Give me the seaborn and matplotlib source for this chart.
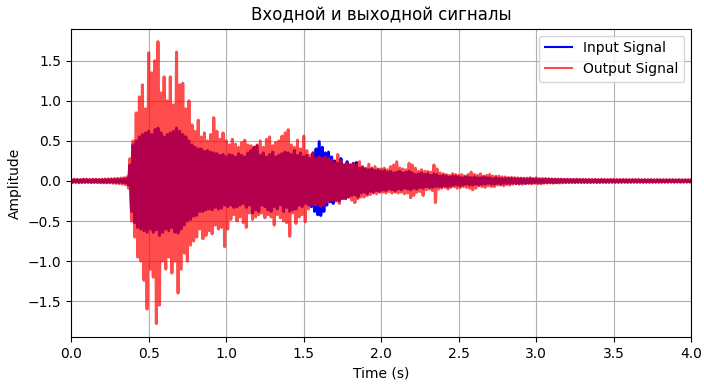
import numpy as np
import seaborn as sns
import matplotlib.pyplot as plt

# waveform samples, one value every 10 ms (rows = 0.2 s)
input_signal = [
    0.012, -0.014, 0.015, -0.013, 0.014, -0.016, 0.013, -0.015, 0.016, -0.014, 0.015, -0.013, 0.014, -0.016, 0.015, -0.014, 0.016, -0.015, 0.014, -0.016,
    0.015, -0.017, 0.016, -0.018, 0.017, -0.016, 0.018, -0.017, 0.019, -0.018, 0.02, -0.019, 0.021, -0.02, 0.024, -0.026, 0.03, -0.05, 0.2, -0.38,
    0.45, -0.52, 0.5, -0.58, 0.55, -0.6, 0.58, -0.62, 0.6, -0.64, 0.62, -0.6, 0.58, -0.64, 0.64, -0.61, 0.66, -0.68, 0.6, -0.64,
    0.55, -0.6, 0.58, -0.62, 0.6, -0.58, 0.62, -0.64, 0.66, -0.65, 0.62, -0.6, 0.58, -0.55, 0.55, -0.5, 0.5, -0.48, 0.45, -0.44,
    0.42, -0.43, 0.4, -0.38, 0.4, -0.38, 0.37, -0.36, 0.38, -0.35, 0.36, -0.36, 0.35, -0.33, 0.34, -0.35, 0.32, -0.34, 0.33, -0.3,
    0.3, -0.32, 0.33, -0.3, 0.32, -0.33, 0.3, -0.32, 0.34, -0.3, 0.32, -0.28, 0.3, -0.33, 0.35, -0.3, 0.38, -0.4, 0.42, -0.36,
    0.44, -0.38, 0.32, -0.3, 0.35, -0.32, 0.3, -0.36, 0.33, -0.38, 0.36, -0.32, 0.3, -0.35, 0.32, -0.3, 0.34, -0.38, 0.36, -0.33,
    0.35, -0.38, 0.33, -0.36, 0.38, -0.35, 0.32, -0.3, 0.35, -0.32, 0.3, -0.28, 0.32, -0.3, 0.28, -0.32, 0.35, -0.38, 0.4, -0.42,
    0.49, -0.43, 0.42, -0.38, 0.35, -0.3, 0.36, -0.26, 0.3, -0.28, 0.25, -0.24, 0.22, -0.25, 0.28, -0.22, 0.2, -0.22, 0.24, -0.2,
    0.2, -0.18, 0.22, -0.17, 0.23, -0.2, 0.16, -0.15, 0.17, -0.14, 0.15, -0.16, 0.14, -0.13, 0.15, -0.14, 0.13, -0.12, 0.14, -0.13,
    0.12, -0.11, 0.13, -0.12, 0.11, -0.1, 0.12, -0.11, 0.1, -0.12, 0.11, -0.1, 0.12, -0.11, 0.1, -0.09, 0.11, -0.1, 0.12, -0.11,
    0.1, -0.09, 0.08, -0.1, 0.09, -0.08, 0.1, -0.09, 0.08, -0.07, 0.09, -0.08, 0.07, -0.08, 0.09, -0.07, 0.08, -0.07, 0.06, -0.07,
    0.07, -0.06, 0.06, -0.07, 0.05, -0.06, 0.06, -0.05, 0.06, -0.05, 0.05, -0.06, 0.04, -0.05, 0.05, -0.04, 0.05, -0.05, 0.04, -0.05,
    0.05, -0.04, 0.04, -0.05, 0.04, -0.04, 0.05, -0.04, 0.04, -0.03, 0.04, -0.04, 0.03, -0.04, 0.04, -0.03, 0.03, -0.04, 0.03, -0.03,
    0.03, -0.03, 0.035, -0.03, 0.03, -0.025, 0.03, -0.03, 0.025, -0.03, 0.03, -0.025, 0.025, -0.03, 0.025, -0.025, 0.03, -0.025, 0.025, -0.02,
    0.025, -0.02, 0.02, -0.025, 0.02, -0.02, 0.022, -0.02, 0.02, -0.018, 0.02, -0.02, 0.018, -0.02, 0.018, -0.017, 0.018, -0.016, 0.017, -0.016,
    0.016, -0.015, 0.016, -0.015, 0.015, -0.016, 0.015, -0.014, 0.015, -0.015, 0.014, -0.015, 0.015, -0.014, 0.014, -0.015, 0.014, -0.013, 0.014, -0.014,
    0.013, -0.014, 0.014, -0.013, 0.013, -0.014, 0.013, -0.013, 0.014, -0.012, 0.013, -0.013, 0.012, -0.013, 0.013, -0.012, 0.013, -0.012, 0.012, -0.013,
    0.012, -0.012, 0.013, -0.012, 0.012, -0.011, 0.012, -0.012, 0.011, -0.012, 0.012, -0.011, 0.011, -0.012, 0.012, -0.011, 0.011, -0.011, 0.012, -0.011,
    0.011, -0.011, 0.01, -0.011, 0.011, -0.01, 0.011, -0.01, 0.01, -0.011, 0.01, -0.01, 0.011, -0.01, 0.01, -0.01, 0.01, -0.011, 0.01, -0.01,
    0.01,
]

output_signal = [
    0.018, -0.02, 0.022, -0.019, 0.02, -0.022, 0.019, -0.021, 0.022, -0.02, 0.021, -0.019, 0.02, -0.022, 0.021, -0.02, 0.022, -0.021, 0.02, -0.022,
    0.022, -0.024, 0.025, -0.023, 0.026, -0.025, 0.028, -0.027, 0.03, -0.03, 0.032, -0.034, 0.036, -0.038, 0.04, -0.045, 0.05, -0.09, 0.28, -0.5,
    0.5, -0.7, 0.85, -0.95, 1.05, -1.0, 1.2, -1.24, 0.9, -1.6, 1.6, -1.1, 1.35, -1.2, 1.5, -1.78, 1.74, -1.55, 1.1, -1.0,
    1.3, -1.1, 1.0, -0.95, 1.3, -1.15, 0.95, -1.0, 1.61, -1.4, 1.2, -1.1, 1.22, -0.9, 0.9, -1.0, 1.0, -0.8, 0.7, -0.75,
    0.62, -0.7, 0.76, -0.6, 0.55, -0.72, 0.6, -0.68, 0.5, -0.62, 0.58, -0.66, 0.79, -0.55, 0.62, -0.6, 0.52, -0.58, 0.6, -0.82,
    0.5, -0.6, 0.45, -0.48, 0.52, -0.42, 0.46, -0.5, 0.42, -0.45, 0.48, -0.52, 0.51, -0.58, 0.45, -0.4, 0.44, -0.48, 0.42, -0.45,
    0.45, -0.42, 0.5, -0.4, 0.42, -0.46, 0.52, -0.42, 0.55, -0.45, 0.44, -0.55, 0.48, -0.42, 0.5, -0.46, 0.56, -0.5, 0.6, -0.52,
    0.64, -0.69, 0.45, -0.4, 0.42, -0.53, 0.51, -0.45, 0.4, -0.42, 0.56, -0.51, 0.38, -0.35, 0.32, -0.3, 0.35, -0.3, 0.28, -0.3,
    0.3, -0.32, 0.28, -0.3, 0.3, -0.26, 0.28, -0.25, 0.26, -0.24, 0.22, -0.25, 0.33, -0.28, 0.25, -0.22, 0.2, -0.22, 0.22, -0.2,
    0.2, -0.24, 0.22, -0.27, 0.2, -0.22, 0.24, -0.2, 0.18, -0.2, 0.16, -0.18, 0.21, -0.17, 0.16, -0.15, 0.18, -0.16, 0.15, -0.14,
    0.15, -0.14, 0.16, -0.15, 0.14, -0.13, 0.18, -0.15, 0.2, -0.14, 0.24, -0.15, 0.16, -0.14, 0.15, -0.16, 0.14, -0.15, 0.22, -0.21,
    0.2, -0.18, 0.16, -0.14, 0.12, -0.13, 0.14, -0.18, 0.12, -0.11, 0.12, -0.1, 0.11, -0.12, 0.2, -0.27, 0.15, -0.1, 0.1, -0.09,
    0.09, -0.08, 0.08, -0.1, 0.07, -0.08, 0.09, -0.07, 0.08, -0.09, 0.07, -0.08, 0.08, -0.07, 0.06, -0.08, 0.08, -0.09, 0.11, -0.11,
    0.08, -0.09, 0.07, -0.06, 0.09, -0.07, 0.06, -0.08, 0.07, -0.06, 0.08, -0.07, 0.06, -0.07, 0.06, -0.05, 0.06, -0.05, 0.05, -0.06,
    0.05, -0.045, 0.04, -0.05, 0.045, -0.04, 0.04, -0.035, 0.04, -0.04, 0.035, -0.04, 0.035, -0.03, 0.035, -0.03, 0.04, -0.035, 0.03, -0.03,
    0.04, -0.035, 0.03, -0.035, 0.03, -0.028, 0.03, -0.025, 0.028, -0.025, 0.025, -0.028, 0.025, -0.022, 0.024, -0.025, 0.022, -0.024, 0.022, -0.02,
    0.022, -0.02, 0.021, -0.022, 0.02, -0.021, 0.022, -0.02, 0.02, -0.019, 0.021, -0.02, 0.019, -0.02, 0.02, -0.019, 0.02, -0.018, 0.019, -0.02,
    0.018, -0.019, 0.019, -0.018, 0.018, -0.019, 0.017, -0.018, 0.019, -0.018, 0.018, -0.017, 0.018, -0.019, 0.017, -0.018, 0.018, -0.017, 0.019, -0.018,
    0.017, -0.018, 0.018, -0.017, 0.017, -0.018, 0.018, -0.017, 0.016, -0.017, 0.018, -0.017, 0.017, -0.016, 0.017, -0.018, 0.016, -0.017, 0.017, -0.016,
    0.016, -0.017, 0.017, -0.016, 0.016, -0.017, 0.016, -0.015, 0.017, -0.016, 0.016, -0.015, 0.016, -0.017, 0.015, -0.016, 0.016, -0.015, 0.016, -0.015,
    0.015,
]

sample_rate = 100  # samples per second in the lists above
time = np.arange(len(input_signal)) / sample_rate

fig = plt.figure(figsize=(7.04, 3.84), dpi=100)

# input first, output drawn over it semi-transparent
sns.lineplot(x=time, y=input_signal, color='blue', label='Input Signal', estimator=None, linewidth=2.2)
sns.lineplot(x=time, y=output_signal, color='red', alpha=0.7, label='Output Signal', estimator=None, linewidth=2.2)

plt.title('Входной и выходной сигналы')
plt.xlabel('Time (s)')
plt.ylabel('Amplitude')
plt.xlim(0, 4)
plt.ylim(-1.95, 1.9)
plt.grid(True)
leg = plt.legend(loc='upper right')
for line in leg.get_lines():
    line.set_linewidth(1.5)
fig.subplots_adjust(left=0.101, right=0.982, top=0.925, bottom=0.122)
plt.savefig('out.png', dpi=100)
